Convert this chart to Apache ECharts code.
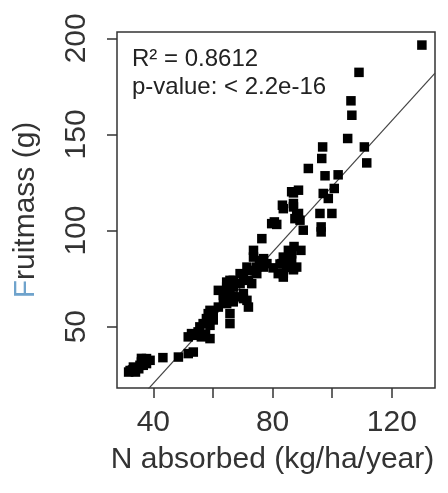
<!DOCTYPE html>
<html>
<head>
<meta charset="utf-8">
<script src="https://cdn.jsdelivr.net/npm/echarts@6/dist/echarts.min.js"></script>
<style>
html,body{margin:0;padding:0;background:#fff;}
#chart{width:448px;height:493px;}
</style>
</head>
<body>
<div id="chart"></div>
<script>
// Data (N absorbed kg/ha/year, Fruitmass g)
const nAbsorbed = [31.7,32.2,33.3,34.0,35.1,35.5,36.0,36.6,36.6,37.7,37.7,38.9,33.0,36.0,
  43.2,48.4,51.7,53.4,
  51.7,52.8,55.0,56.1,59.0,55.6,56.7,57.8,58.4,59.0,60.1,60.1,59.0,54.0,57.5,
  61.8,65.7,65.7,61.8,63.5,63.5,64.6,65.7,66.8,66.8,65.7,64.6,66.8,64.6,65.7,66.8,68.0,70.2,70.2,71.4,71.9,69.1,71.9,73.0,69.1,70.2,71.4,72.5,74.7,74.7,75.6,77.0,78.1,77.0,73.6,73.6,76.4,
  80.2,81.9,83.6,83.6,82.5,83.1,84.7,84.7,83.6,86.4,86.4,85.3,87.2,89.5,87.0,88.1,87.0,
  80.6,81.4,79.7,83.3,83.6,87.0,86.4,87.0,88.7,88.1,88.7,89.2,90.3,87.5,87.0,
  92.0,96.8,96.5,95.9,99.9,96.3,96.3,97.0,98.7,100.7,97.6,102.0,
  105.2,106.3,106.6,109.0,110.8,111.6,130.1];
const fruitmass = [26.4,27.2,29.0,26.4,28.1,29.9,31.6,29.9,32.5,30.8,33.4,32.5,27.5,33.5,
  33.9,34.2,36.0,36.8,
  44.7,46.4,47.3,44.7,43.8,49.9,51.6,54.2,56.8,50.7,53.5,56.8,58.5,45.5,46.0,
  60.2,56.8,51.6,68.9,66.3,64.6,62.0,65.5,62.9,65.5,68.9,70.6,70.6,73.2,74.1,74.1,65.5,67.2,64.6,63.7,60.2,72.4,74.1,72.4,77.6,76.7,81.0,79.3,77.6,81.0,84.5,81.0,82.8,85.4,86.2,89.7,95.8,
  80.6,77.6,75.8,77.6,82.6,82.8,80.9,84.4,86.2,84.5,87.9,89.7,91.7,89.7,80.2,81.0,79.6,
  104.5,103.2,103.6,113.2,111.4,112.3,120.2,119.6,121.0,108.0,108.9,105.4,100.2,106.2,114.1,
  132.3,143.5,137.5,108.9,108.9,101.9,99.3,119.3,116.7,121.9,128.5,129.0,
  147.9,167.5,160.0,182.3,143.5,135.2,196.5];

// Linear fit
const fitIntercept = -47.8;
const fitSlope = 1.708;

// Axes
const xMin = 27.8, xMax = 134.5;
const yMin = 18.1, yMax = 203.3;
const xTicks = [40, 60, 80, 100, 120];
const xTickLabels = [40, 80, 120];
const yTicks = [50, 100, 150, 200];
const yTickLabels = [50, 100, 150, 200];

const annR2 = 'R² = 0.8612';
const annP = 'p-value: < 2.2e-16';

const points = nAbsorbed.map((x, i) => [x, fruitmass[i]]);
const fitLine = [xMin, xMax].map(x => [x, fitIntercept + fitSlope * x]);

const FONT = '"Liberation Sans", Arial, sans-serif';
const chart = echarts.init(document.getElementById('chart'), null, {renderer: 'canvas'});
chart.setOption({
  animation: false,
  backgroundColor: '#fff',
  grid: {left: 117, top: 32, width: 318, height: 356, show: true, borderColor: '#333', borderWidth: 1.5, backgroundColor: 'transparent'},
  xAxis: {
    type: 'value', min: xMin, max: xMax,
    name: 'N absorbed (kg/ha/year)', nameLocation: 'middle', nameGap: 57,
    nameTextStyle: {fontFamily: FONT, fontSize: 30, color: '#333', padding: [0, 7, 0, 0]},
    axisLine: {show: false},
    splitLine: {show: false},
    axisTick: {show: true, inside: false, length: 10, customValues: xTicks, lineStyle: {color: '#333', width: 1.5}},
    axisLabel: {customValues: xTickLabels, margin: 20, fontFamily: FONT, fontSize: 30, color: '#333'}
  },
  yAxis: {
    type: 'value', min: yMin, max: yMax,
    name: '{b|F}ruitmass (g)', nameLocation: 'middle', nameGap: 76,
    nameTextStyle: {fontFamily: FONT, fontSize: 30, color: '#333', rich: {b: {fontFamily: FONT, fontSize: 30, color: '#6fa3cc'}}},
    axisLine: {show: false},
    splitLine: {show: false},
    axisTick: {show: true, inside: false, length: 10, customValues: yTicks, lineStyle: {color: '#333', width: 1.5}},
    axisLabel: {customValues: yTickLabels, rotate: 90, margin: 25, fontFamily: FONT, fontSize: 30, color: '#333'}
  },
  graphic: [
    {type: 'text', left: 132, top: 47, style: {text: annR2, font: '24px ' + FONT, fill: '#222'}},
    {type: 'text', left: 132, top: 75, style: {text: annP, font: '24px ' + FONT, fill: '#222'}}
  ],
  series: [
    {type: 'line', data: fitLine, showSymbol: false, symbol: 'none', clip: true, lineStyle: {color: '#444', width: 1.2}, z: 1},
    {type: 'scatter', data: points, symbol: 'rect', symbolSize: 9.5, itemStyle: {color: '#000', opacity: 1}, z: 2}
  ]
});
</script>
</body>
</html>
